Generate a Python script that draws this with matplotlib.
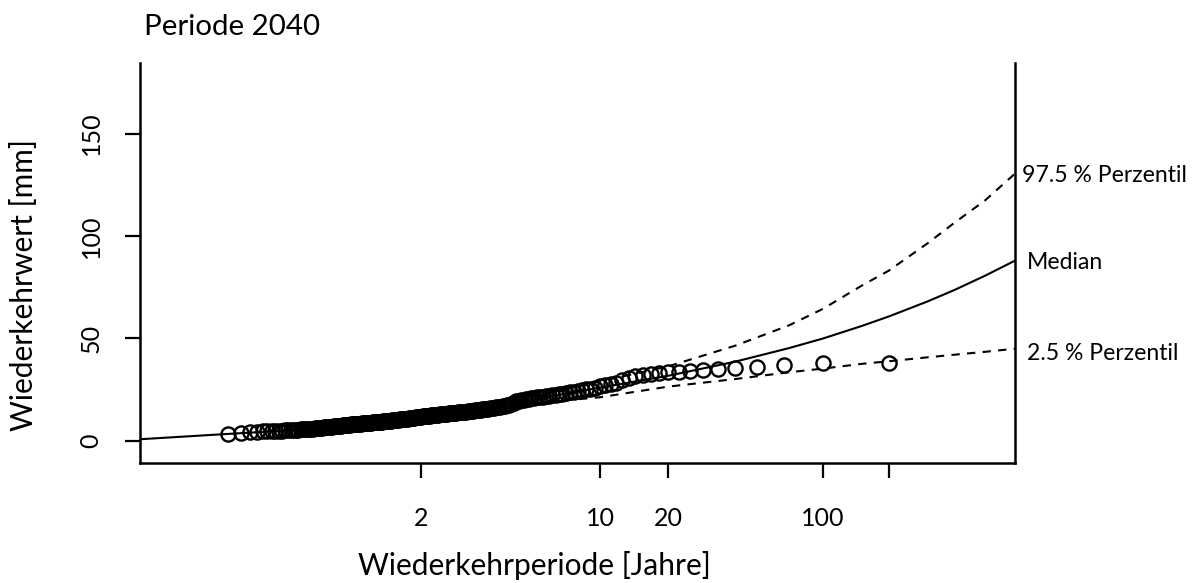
import numpy as np
import matplotlib
matplotlib.use('Agg')
import matplotlib.pyplot as plt
import matplotlib.transforms as mtransforms

plt.rcParams['font.family'] = ['Lato', 'DejaVu Sans']

# --- data ---
# observed values, sorted from largest to smallest (n = 199)
obs_values = [
    38.0, 37.8, 37.2, 36.2, 35.6, 35.1, 34.8, 34.0, 33.7, 33.4,
    33.0, 32.5, 32.0, 31.5, 30.5, 29.5, 28.5, 27.8, 27.2, 26.6,
    25.9, 25.5, 25.2, 24.8, 24.4, 24.1, 23.8, 23.5, 23.1, 22.8,
    22.6, 22.4, 22.1, 21.9, 21.6, 21.4, 21.2, 20.9, 20.7, 20.5,
    20.3, 20.1, 19.9, 19.7, 19.5, 18.6, 18.1, 17.6, 17.3, 17.0,
    16.8, 16.7, 16.5, 16.4, 16.2, 16.1, 15.9, 15.8, 15.6, 15.5,
    15.4, 15.3, 15.2, 15.1, 14.9, 14.8, 14.7, 14.6, 14.4, 14.3,
    14.2, 14.1, 14.0, 14.0, 13.9, 13.8, 13.7, 13.7, 13.6, 13.5,
    13.4, 13.3, 13.2, 13.2, 13.1, 13.0, 12.9, 12.8, 12.7, 12.6,
    12.5, 12.5, 12.4, 12.3, 12.3, 12.2, 12.1, 12.1, 12.0, 11.9,
    11.8, 11.7, 11.6, 11.5, 11.4, 11.3, 11.2, 11.1, 11.0, 10.8,
    10.8, 10.7, 10.7, 10.6, 10.5, 10.5, 10.4, 10.3, 10.3, 10.2,
    10.1, 10.0, 9.9, 9.9, 9.8, 9.7, 9.6, 9.6, 9.5, 9.4,
    9.3, 9.3, 9.2, 9.2, 9.1, 9.1, 9.0, 8.9, 8.9, 8.8,
    8.7, 8.7, 8.6, 8.6, 8.5, 8.4, 8.4, 8.3, 8.2, 8.1,
    8.1, 8.0, 8.0, 7.9, 7.9, 7.8, 7.7, 7.7, 7.6, 7.5,
    7.4, 7.3, 7.3, 7.2, 7.1, 7.0, 7.0, 6.9, 6.8, 6.7,
    6.6, 6.5, 6.4, 6.3, 6.2, 6.1, 6.0, 6.0, 5.9, 5.8,
    5.7, 5.7, 5.6, 5.5, 5.4, 5.3, 5.3, 5.2, 5.1, 5.0,
    4.9, 4.8, 4.7, 4.7, 4.6, 4.4, 4.1, 3.9, 3.6,
]

# fitted return levels (median and 95 % band), by return period in years
med_T = [1.0000015, 1.005, 1.09, 1.3, 2, 4, 6, 10, 20, 40, 70, 100,
         150, 200, 300, 400, 550, 752]
med_val = [0.8, 3.4, 5.4, 7.8, 11.9, 16.8, 21.5, 26.0, 31.8, 38.7, 45.3, 50.0,
           56.1, 60.8, 68.1, 73.8, 80.7, 88.0]

ci_T = [1.09, 2, 4, 6, 10, 20, 40, 70, 100, 150, 200, 300, 400, 550, 752]
upper_val = [5.8, 12.8, 18.0, 23.5, 29.0, 36.4, 46.5, 56.4, 64.5, 75.8,
             83.2, 96.5, 106.7, 117.5, 130.5]
lower_val = [5.2, 11.2, 16.0, 19.0, 21.3, 26.5, 30.2, 33.5, 35.3, 37.6,
             38.9, 40.8, 42.1, 43.5, 45.0]

x_ticks = [2, 10, 20, 100, 200]
x_ticklabels = ['2', '10', '20', '100', '']
y_ticks = [0, 50, 100, 150]


# Gumbel reduced variate axis for return periods
def fwd(T):
    T = np.asarray(T, dtype=float)
    with np.errstate(divide='ignore', invalid='ignore'):
        return -np.log(-np.log1p(-1.0 / T))


def inv(g):
    g = np.asarray(g, dtype=float)
    return 1.0 / (-np.expm1(-np.exp(-g)))


n = len(obs_values)
obs_T = (n + 1) / np.arange(1, n + 1)

W, H = 1197, 583
fig = plt.figure(figsize=(W / 100, H / 100), dpi=100)
ax = fig.add_axes([140 / W, 1 - 463 / H, 875 / W, 400 / H])
ax.set_xscale('function', functions=(fwd, inv))

dash = (0, (4, 3.5))
ax.plot(med_T, med_val, color='black', lw=1.5)
ax.plot(ci_T, upper_val, color='black', lw=1.5, ls=dash)
ax.plot(ci_T, lower_val, color='black', lw=1.5, ls=dash)
ax.plot(obs_T, obs_values, ls='none', marker='o', ms=10.2,
        mfc='none', mec='black', mew=1.7)

ax.set_xlim(1.0000015, 752)
ax.set_ylim(-10.8, 184.5)

ax.set_xticks(x_ticks)
ax.set_xticklabels(x_ticklabels)
ax.set_yticks(y_ticks)
ax.set_yticklabels([str(v) for v in y_ticks], rotation=90, va='center')
ax.minorticks_off()

ax.spines['top'].set_visible(False)
for s in ['left', 'right', 'bottom']:
    ax.spines[s].set_linewidth(1.8)
ax.tick_params(axis='both', length=11, width=1.6, labelsize=18)
ax.tick_params(axis='x', pad=21)
ax.tick_params(axis='y', pad=16)

renderer = fig.canvas.get_renderer()


def fit_width(t, target_px, vertical=False):
    bb = t.get_window_extent(renderer)
    cur = bb.height if vertical else bb.width
    t.set_fontsize(t.get_fontsize() * target_px / cur)


title = fig.text(144 / W, 1 - 27 / H, 'Periode 2040', fontsize=20,
                 va='center', ha='left')
fit_width(title, 176)

xlab = fig.text(358 / W, 1 - 565 / H, 'Wiederkehrperiode [Jahre]', fontsize=20,
                va='center', ha='left')
fit_width(xlab, 355)

ylab = fig.text(24 / W, 1 - 285 / H, 'Wiederkehrwert [mm]', fontsize=20,
                rotation=90, va='center', ha='center')
ylab.set_fontsize(xlab.get_fontsize())

trans = mtransforms.blended_transform_factory(ax.transAxes, fig.transFigure)
lab_hi = ax.text(1.008, 1 - 175 / H, '97.5 % Perzentil', transform=trans,
                 fontsize=16, va='center', ha='left')
fit_width(lab_hi, 165)
lab_med = ax.text(1.014, 1 - 262 / H, 'Median', transform=trans,
                  fontsize=16, va='center', ha='left')
lab_med.set_fontsize(lab_hi.get_fontsize())
lab_lo = ax.text(1.014, 1 - 353 / H, '2.5 % Perzentil', transform=trans,
                 fontsize=16, va='center', ha='left')
lab_lo.set_fontsize(lab_hi.get_fontsize())

fig.savefig('out.png', dpi=100)
